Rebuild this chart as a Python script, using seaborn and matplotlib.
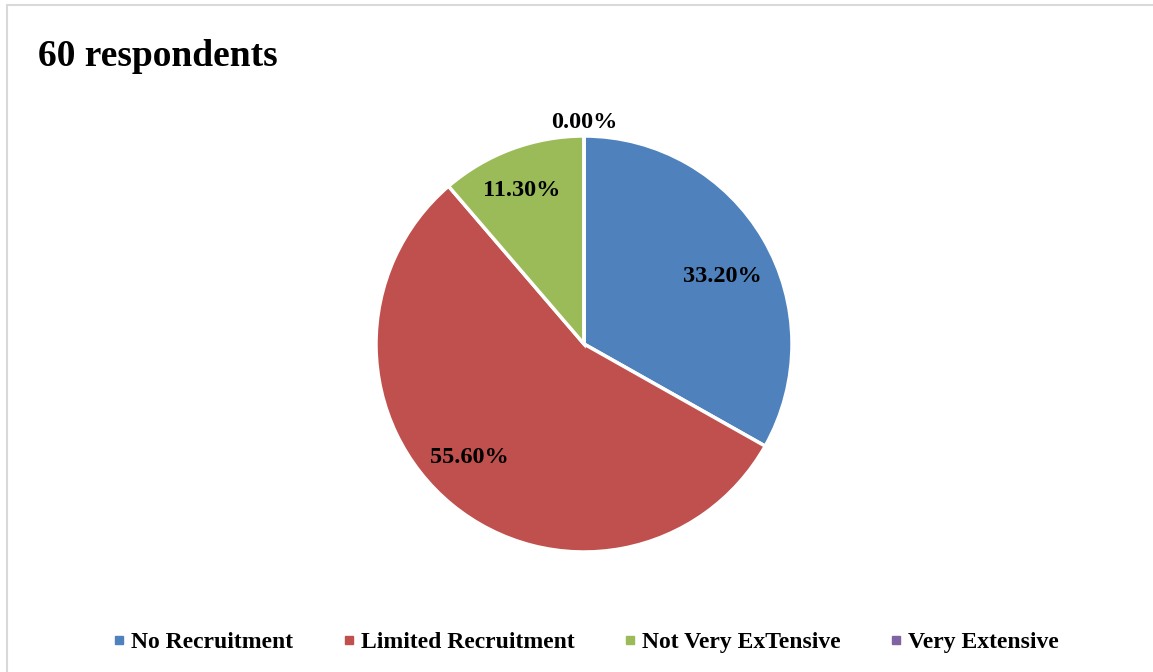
import matplotlib
matplotlib.use("Agg")
import matplotlib.pyplot as plt
from matplotlib.lines import Line2D
import numpy as np
import seaborn as sns

categories = ["No Recruitment", "Limited Recruitment", "Not Very ExTensive", "Very Extensive"]
shares = [33.2, 55.6, 11.3, 0.0]
colors = ["#4F81BD", "#C0504D", "#9BBB59", "#8064A2"]
title = "60 respondents"

sns.set_theme(style="white")
plt.rcParams["font.family"] = ["Liberation Serif", "DejaVu Serif"]
plt.rcParams["text.color"] = "black"

W, H = 1153, 672
fig = plt.figure(figsize=(W / 100, H / 100), dpi=100)
fig.patch.set_facecolor("white")

# light frame along the top and left edges
fig.add_artist(Line2D([7 / W, 1.0], [1 - 5 / H, 1 - 5 / H], color="#D9D9D9", lw=1.5))
fig.add_artist(Line2D([7 / W, 7 / W], [0.0, 1 - 5 / H], color="#D9D9D9", lw=1.5))

fig.text(38 / W, 1 - 56 / H, title, fontsize=27, fontweight="bold", color="black",
         ha="left", va="center")

cx, cy, r = 584, 344, 208
ax = fig.add_axes([(cx - r) / W, 1 - (cy + r) / H, 2 * r / W, 2 * r / H])
wedges, _ = ax.pie(shares, colors=colors, startangle=90, counterclock=False,
                   wedgeprops=dict(edgecolor="white", linewidth=2.5))
ax.set_aspect("equal")
ax.set_xlim(-1, 1)
ax.set_ylim(-1, 1)
ax.axis("off")

# value labels placed near each wedge's mid-angle
radii = [0.745, 0.765, 0.81, 1.075]
angle_shift = [-3.5, -6.5, 1.5, 0.0]
for w, val, rad, da in zip(wedges, shares, radii, angle_shift):
    ang = np.deg2rad((w.theta1 + w.theta2) / 2 + da)
    ax.text(rad * np.cos(ang), rad * np.sin(ang), f"{val:.2f}%", ha="center",
            va="center_baseline", fontsize=17.5, fontweight="bold", color="black",
            clip_on=False)

handles = [Line2D([], [], marker="s", linestyle="", markersize=5.5, markerfacecolor=c,
                  markeredgecolor=c) for c in colors]
fig.legend(handles, categories, loc="center", bbox_to_anchor=(586 / W, 1 - 642 / H), ncol=4,
           frameon=False, handlelength=0.5, handletextpad=0.25, columnspacing=2.1,
           labelcolor="black",
           prop=dict(family="Liberation Serif", weight="bold", size=17))

fig.savefig("out.png", dpi=100, facecolor="white")
